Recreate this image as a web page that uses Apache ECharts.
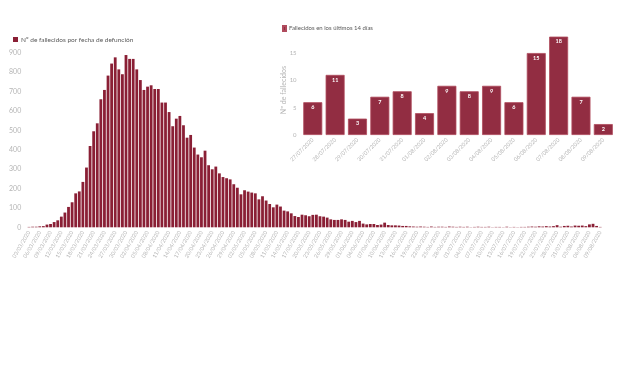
<!DOCTYPE html>
<html>
<head>
<meta charset="utf-8">
<script src="https://cdn.jsdelivr.net/npm/echarts@6/dist/echarts.min.js"></script>
<style>
html,body{margin:0;padding:0;background:#fff;}
#chart{width:620px;height:368px;}
</style>
</head>
<body>
<div id="chart"></div>
<script>
var dailyDates = [
'03/03/2020','04/03/2020','05/03/2020','06/03/2020','07/03/2020','08/03/2020','09/03/2020','10/03/2020','11/03/2020','12/03/2020',
'13/03/2020','14/03/2020','15/03/2020','16/03/2020','17/03/2020','18/03/2020','19/03/2020','20/03/2020','21/03/2020','22/03/2020',
'23/03/2020','24/03/2020','25/03/2020','26/03/2020','27/03/2020','28/03/2020','29/03/2020','30/03/2020','31/03/2020',
'01/04/2020','02/04/2020','03/04/2020','04/04/2020','05/04/2020','06/04/2020','07/04/2020','08/04/2020','09/04/2020','10/04/2020',
'11/04/2020','12/04/2020','13/04/2020','14/04/2020','15/04/2020','16/04/2020','17/04/2020','18/04/2020','19/04/2020','20/04/2020',
'21/04/2020','22/04/2020','23/04/2020','24/04/2020','25/04/2020','26/04/2020','27/04/2020','28/04/2020','29/04/2020','30/04/2020',
'01/05/2020','02/05/2020','03/05/2020','04/05/2020','05/05/2020','06/05/2020','07/05/2020','08/05/2020','09/05/2020','10/05/2020',
'11/05/2020','12/05/2020','13/05/2020','14/05/2020','15/05/2020','16/05/2020','17/05/2020','18/05/2020','19/05/2020','20/05/2020',
'21/05/2020','22/05/2020','23/05/2020','24/05/2020','25/05/2020','26/05/2020','27/05/2020','28/05/2020','29/05/2020','30/05/2020','31/05/2020',
'01/06/2020','02/06/2020','03/06/2020','04/06/2020','05/06/2020','06/06/2020','07/06/2020','08/06/2020','09/06/2020','10/06/2020',
'11/06/2020','12/06/2020','13/06/2020','14/06/2020','15/06/2020','16/06/2020','17/06/2020','18/06/2020','19/06/2020','20/06/2020',
'21/06/2020','22/06/2020','23/06/2020','24/06/2020','25/06/2020','26/06/2020','27/06/2020','28/06/2020','29/06/2020','30/06/2020',
'01/07/2020','02/07/2020','03/07/2020','04/07/2020','05/07/2020','06/07/2020','07/07/2020','08/07/2020','09/07/2020','10/07/2020',
'11/07/2020','12/07/2020','13/07/2020','14/07/2020','15/07/2020','16/07/2020','17/07/2020','18/07/2020','19/07/2020','20/07/2020',
'21/07/2020','22/07/2020','23/07/2020','24/07/2020','25/07/2020','26/07/2020','27/07/2020','28/07/2020','29/07/2020','30/07/2020','31/07/2020',
'01/08/2020','02/08/2020','03/08/2020','04/08/2020','05/08/2020','06/08/2020','07/08/2020','08/08/2020','09/08/2020'
];
var dailyDeaths = [
2,3,3,5,6,14,17,27,36,55,
76,105,129,175,185,234,308,419,495,536,
660,708,782,844,876,814,789,888,868,868,
814,759,708,725,732,713,713,643,643,594,
521,560,574,526,462,476,411,375,361,395,
320,299,313,278,259,253,247,222,204,170,
191,184,179,175,144,160,138,120,103,117,
107,86,82,72,58,53,65,62,57,64,
65,57,55,50,41,38,38,41,38,29,
33,27,33,19,15,17,17,12,14,24,
12,10,10,9,7,7,5,4,3,4,
3,2,4,2,3,3,2,4,3,2,
3,2,3,1,2,3,2,2,3,1,
2,2,1,3,1,2,1,2,2,3,
4,3,5,4,6,4,6,11,3,7,
8,4,9,8,9,6,15,18,7,2
];
var recentDates = ['27/07/2020','28/07/2020','29/07/2020','30/07/2020','31/07/2020','01/08/2020','02/08/2020','03/08/2020','04/08/2020','05/08/2020','06/08/2020','07/08/2020','08/08/2020','09/08/2020'];
var recentDeaths = [6,11,3,7,8,4,9,8,9,6,15,18,7,2];
var leftYTicks = [0,100,200,300,400,500,600,700,800,900];
var rightYTicks = [0,5,10,15];
var leftName = 'Nº de fallecidos por fecha de defunción';
var rightName = 'Fallecidos en los últimos 14 días';
var rightAxisName = 'Nº de fallecidos';

var FONT = 'Lato, "Open Sans", sans-serif';
var rightTop = rightYTicks[rightYTicks.length-1];
var chart = echarts.init(document.getElementById('chart'), null, {renderer:'canvas'});
chart.setOption({
  backgroundColor:'#ffffff',
  animation:false,
  textStyle:{fontFamily:FONT},
  legend:[
    {data:[leftName], left:8, top:31, icon:'rect', itemWidth:5, itemHeight:5, itemGap:4,
     textStyle:{fontSize:6.5, color:'#595959', fontFamily:FONT, padding:[0,0,0,-2]}},
    {data:[rightName], left:277, top:20, icon:'rect', itemWidth:3, itemHeight:5, itemGap:4,
     textStyle:{fontSize:6, color:'#595959', fontFamily:FONT, padding:[0,0,0,-2]}}
  ],
  grid:[
    {left:27.2, right:18, top:52.7, bottom:140.7, containLabel:false},
    {left:301.6, right:5.5, top:25.7, bottom:233, containLabel:false}
  ],
  xAxis:[
    {type:'category', gridIndex:0, data:dailyDates,
     axisLine:{show:false}, axisTick:{show:false},
     axisLabel:{interval:2, rotate:60, fontSize:5.5, color:'#b5b5b5', margin:4, fontFamily:FONT}},
    {type:'category', gridIndex:1, data:recentDates,
     axisLine:{show:false}, axisTick:{show:false},
     axisLabel:{interval:0, rotate:45, fontSize:5.5, color:'#b5b5b5', margin:4, fontFamily:FONT}}
  ],
  yAxis:[
    {type:'value', gridIndex:0, min:leftYTicks[0], max:leftYTicks[leftYTicks.length-1], interval:100,
     splitLine:{show:false}, axisLine:{show:false}, axisTick:{show:false},
     axisLabel:{fontSize:7, color:'#b5b5b5', margin:6, fontFamily:FONT}},
    {type:'value', gridIndex:1, min:rightYTicks[0], max:20, interval:5,
     splitLine:{show:false}, axisLine:{show:false}, axisTick:{show:false},
     axisLabel:{fontSize:6, color:'#b5b5b5', margin:5, fontFamily:FONT,
       formatter:function(v){return v>rightTop?'':String(v);}}}
  ],
  graphic:[
    {type:'text', left:280, top:66, rotation:Math.PI/2,
     style:{text:rightAxisName, fontSize:7, fill:'#b5b5b5', fontFamily:FONT}}
  ],
  series:[
    {name:leftName, type:'bar', xAxisIndex:0, yAxisIndex:0, data:dailyDeaths,
     barCategoryGap:'22%', itemStyle:{color:'#8a1f35'}},
    {name:rightName, type:'bar', xAxisIndex:1, yAxisIndex:1, data:recentDeaths,
     barCategoryGap:'15%', itemStyle:{color:'#922d42', borderColor:'#b04b5d', borderWidth:0.8},
     label:{show:true, position:'insideTop', distance:2, fontSize:5.5, fontWeight:'bold', color:'#ffffff', fontFamily:FONT}}
  ]
});
</script>
</body>
</html>
